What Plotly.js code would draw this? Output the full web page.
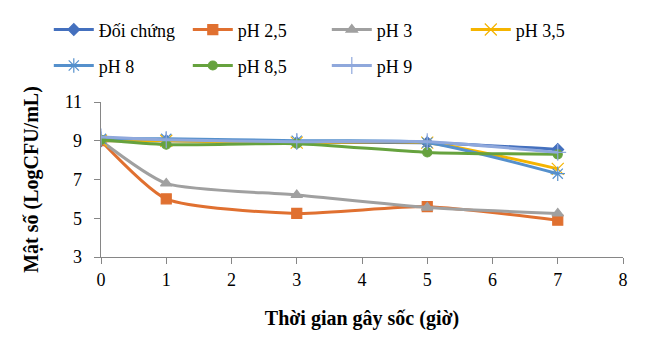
<!DOCTYPE html>
<html>
<head>
<meta charset="utf-8">
<script src="https://cdn.plot.ly/plotly-3.0.1.min.js"></script>
<style>html,body{margin:0;padding:0;background:#fff;}#chart{width:652px;height:355px;}</style>
</head>
<body>
<div id="chart"></div>
<script>
const hours = [0, 1, 3, 5, 7];
const seriesNames = ["Đối chứng", "pH 2,5", "pH 3", "pH 3,5", "pH 8", "pH 8,5", "pH 9"];
const doiChung = [9.0, 9.0, 8.9, 8.9, 8.55];
const pH25 = [9.0, 6.0, 5.25, 5.6, 4.9];
const pH3 = [9.0, 6.8, 6.2, 5.55, 5.25];
const pH35 = [9.0, 9.0, 8.9, 8.9, 7.55];
const pH8 = [9.1, 9.1, 9.0, 8.9, 7.3];
const pH85 = [9.05, 8.8, 8.85, 8.4, 8.3];
const pH9 = [9.2, 9.05, 8.95, 8.95, 8.4];
const xTicks = [0, 1, 2, 3, 4, 5, 6, 7, 8];
const yTicks = [3, 5, 7, 9, 11];

const values = [doiChung, pH25, pH3, pH35, pH8, pH85, pH9];
const colors = ["#4470BE", "#E07030", "#A0A0A0", "#F5B400", "#5590CC", "#66A23E", "#8FA8DC"];
const symbols = ["diamond", "square", "triangle-up", "x-thin-open", "asterisk-open", "circle", "cross-thin-open"];
const msizes = [9, 10, 10, 12, 12, 9, 12];

const traces = values.map((v, i) => ({
  x: hours, y: v, name: seriesNames[i], type: "scatter", mode: "lines+markers",
  legend: i < 4 ? "legend" : "legend2",
  line: {color: colors[i], width: 3, shape: "spline", smoothing: 0.6},
  marker: {symbol: symbols[i], size: msizes[i], color: colors[i], line: {color: colors[i], width: 1.2}}
}));

const legendBase = {orientation: "h", xref: "paper", yref: "paper", x: -0.1, xanchor: "left", yanchor: "top",
  entrywidth: 84, itemwidth: 40, font: {size: 18}, bgcolor: "rgba(0,0,0,0)"};

const layout = {
  width: 652, height: 355,
  margin: {l: 101, r: 29, t: 102, b: 98},
  paper_bgcolor: "#fff", plot_bgcolor: "#fff",
  font: {family: "Liberation Serif, Times New Roman, serif", size: 18, color: "#000"},
  showlegend: true,
  legend: Object.assign({}, legendBase, {y: 1.585}),
  legend2: Object.assign({}, legendBase, {y: 1.353}),
  xaxis: {range: [0, 8], tickvals: xTicks, showgrid: false, zeroline: false, showline: true,
          linecolor: "#868686", linewidth: 1.3, ticks: "outside", ticklen: 6, tickcolor: "#868686",
          title: {text: "<b>Thời gian gây sốc (giờ)</b>", font: {size: 20}, standoff: 22}},
  yaxis: {range: [3, 11], tickvals: yTicks, showgrid: false, zeroline: false, showline: true,
          linecolor: "#868686", linewidth: 1.3, ticks: "outside", ticklen: 6, tickcolor: "#868686",
          ticklabelstandoff: 8,
          title: {text: "<b>Mật số (LogCFU/mL)</b>", font: {size: 20}, standoff: 20}}
};
Plotly.newPlot("chart", traces, layout, {displayModeBar: false, staticPlot: true});
</script>
</body>
</html>
